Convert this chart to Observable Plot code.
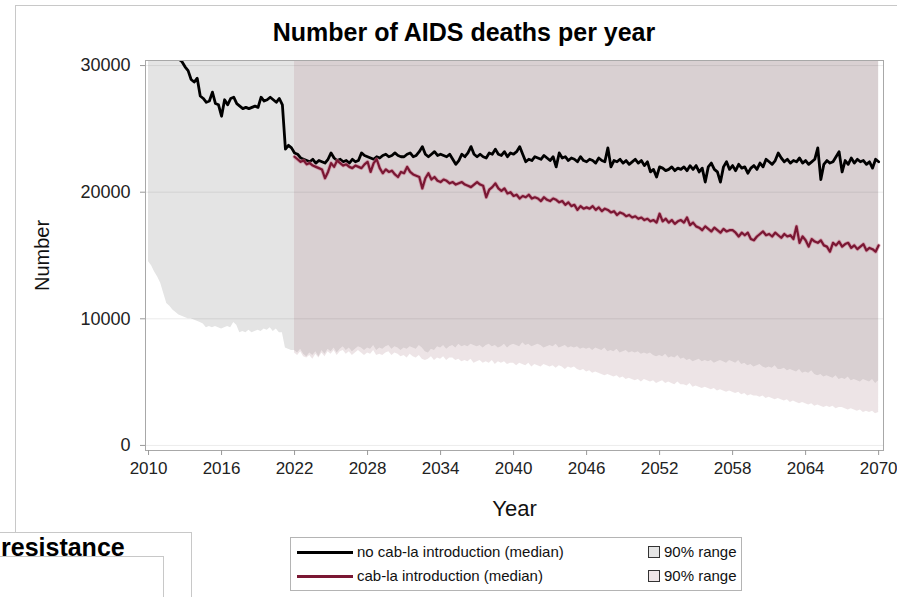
<!DOCTYPE html>
<html><head><meta charset="utf-8">
<script src="https://cdn.jsdelivr.net/npm/d3@7"></script>
<script src="https://cdn.jsdelivr.net/npm/@observablehq/plot@0.6"></script>
<style>
html,body{margin:0;padding:0;background:#fff;}
#page{position:relative;width:897px;height:597px;overflow:hidden;font-family:"Liberation Sans",Arial,sans-serif;color:#000;}
.abs{position:absolute;}
#title{left:464px;top:18px;transform:translateX(-50%);font-size:25px;font-weight:bold;white-space:nowrap;}
#chart{left:0;top:45px;}
#legend{left:290px;top:537px;width:452px;height:54px;border:1px solid #b4b4b4;box-sizing:border-box;background:#fff;}
.lrow{position:absolute;left:0;height:20px;width:100%;font-size:15px;white-space:nowrap;color:#111;}
.lline{position:absolute;left:6px;top:9px;width:56px;height:3px;}
.ltext{position:absolute;left:66px;top:1px;}
.lsw{position:absolute;left:357px;top:4px;width:10px;height:10px;border:1px solid #333;}
.lrng{position:absolute;left:373px;top:1px;}
</style></head>
<body><div id="page">
<div class="abs" style="left:15px;top:5px;width:882px;height:0;border-top:1px solid #c8c8c8"></div>
<div class="abs" style="left:15px;top:5px;width:0;height:527px;border-left:1px solid #c8c8c8"></div>
<div class="abs" id="title">Number of AIDS deaths per year</div>
<div class="abs" id="chart"></div>
<div class="abs" id="legend"></div>
<div class="abs" style="left:-1px;top:532px;width:191px;height:80px;border:1px solid #c8c8c8;background:#fff"></div>
<div class="abs" style="left:-1px;top:556px;width:163px;height:60px;border:1px solid #c8c8c8;background:#fff"></div>
<div class="abs" style="left:1px;top:533px;font-size:25px;font-weight:bold;white-space:nowrap">resistance</div>
</div>
<script>
// ---- data (quarterly, from startYear) ----
const startYear = 2010;
const cabStartYear = 2022;
const xTicks = [2010, 2016, 2022, 2028, 2034, 2040, 2046, 2052, 2058, 2064, 2070];
const yTicks = [0, 10000, 20000, 30000];
const seriesNames = ["no cab-la introduction (median)", "cab-la introduction (median)"];
const rangeName = "90% range";

// no cab-la introduction: median
const noCabMedian = [
34500,34000,33400,33000, 32600,32200,31900,31500, 31200,30900,30500,30300, 29900,29600,28900,28700,
29000,27600,27400,27100, 27200,27900,27000,26900, 26000,27300,26900,27400, 27500,27000,26800,26600,
26700,26600,26700,26800, 26700,27500,27200,27300, 27500,27300,27100,27400, 26900,23400,23700,23500,
23100,23000,22700,22600, 22500,22400,22600,22300, 22500,22400,22300,22600, 23100,22700,22500,22600,
22400,22500,22300,22600, 22400,22500,23100,22900, 22800,22700,22600,22800, 22700,22900,23000,22800,
22900,23100,22900,22800, 22800,23000,23100,22800, 22900,23200,23600,23000, 22800,23000,23200,22900,
23000,22900,22800,23000, 22600,22200,22500,23000, 22800,23100,23600,23000, 22800,23000,22800,22700,
23100,23000,23400,23000, 22900,23200,22800,23100, 23000,23200,23600,23000, 22400,22600,22500,22800,
22700,22600,22900,22700, 22500,22800,22000,23100, 22700,22800,22500,22700, 22600,22400,22800,22500,
22400,22600,22500,22300, 22700,22500,22400,23500, 22000,22500,22400,22600, 22300,22500,22200,22400,
22600,22300,22500,22100, 22400,21600,21800,21200, 22000,21900,21700,21800, 22000,21700,21900,21800,
22000,21700,22100,21800, 22100,21600,21900,20800, 22000,22300,21800,21600, 20800,22000,22400,21800,
22100,21700,22200,21900, 22000,21500,21900,22100, 21800,22300,22000,22600, 22400,22200,22500,23100,
22700,22400,22600,22300, 22500,22400,22700,22300, 22500,22200,22400,22600, 23500,21000,22200,22500,
22300,22400,22800,23200, 21600,22500,22200,22700, 22300,22600,22400,22500, 22200,22400,21900,22600,
22400
];
// no cab-la introduction: lower end of 90% range
const noCabLow = [
14500,14200,13700,13300, 12800,12000,11200,11000, 10700,10500,10300,10200, 10100,10000,10000,9900,
9800,9700,9600,9300, 9400,9300,9400,9300, 9200,9300,9400,9300, 9700,9500,8900,9000,
8900,9100,8900,9000, 9100,9000,9200,9100, 9300,9000,9200,8900, 8900,7700,7600,7500,
7500,7300,7600,7200, 7000,7300,7100,7400, 7000,7500,7200,7600, 7400,7700,7300,7600,
7800,7500,7700,7400, 7600,7800,7700,7500, 7700,7600,7900,7500, 7700,7600,7800,7900,
7600,7800,7700,7500, 7700,7600,7800,7700, 7600,7900,7700,7400, 7300,7600,7500,7800,
7700,7900,7600,7800, 7900,7700,8000,7800, 7900,7800,8000,7900, 7800,7900,7700,7900,
8000,7800,7900,7700, 7800,8000,7700,7900, 8000,7900,7800,8100, 7900,8000,7800,7900,
8000,7900,7700,7800, 7900,7800,8000,7700, 7800,7900,7700,7800, 7700,7800,7600,7700,
7600,7700,7500,7700, 7600,7500,7700,7400, 7500,7400,7600,7300, 7400,7500,7300,7400,
7300,7400,7200,7300, 7200,7300,7100,7000, 7100,7000,7200,6900, 7000,6900,7100,6800,
6900,6700,6800,6600, 6700,6800,6600,6700, 6600,6700,6500,6600, 6700,6600,6500,6700,
6600,6500,6700,6400, 6500,6300,6400,6200, 6300,6400,6200,6100, 6200,6100,6300,6000,
6000,6100,5900,6000, 5900,5800,6000,5700, 5800,5700,5900,5600, 5500,5600,5400,5500,
5400,5300,5500,5200, 5300,5200,5400,5100, 5200,5100,5000,5200, 5100,5000,5200,4900,
5100
];
// cab-la introduction: median (from 2022)
const cabMedian = [
22800,22600,22400,22500, 22200,22300,22100,22000, 21900,21800,21100,21600, 22300,22000,22500,22300,
22100,22200,22000,21900, 22100,22000,21900,22200, 22400,21600,22300,22600, 21900,21500,21800,21600,
21700,21400,21200,21600, 21500,22000,21600,21400, 21300,21200,20300,21100, 21500,21000,21200,20900,
20800,21000,20900,20700, 20800,20600,20700,20800, 20600,20500,20400,20600, 20800,20600,20500,19600,
20200,20400,20700,20300, 20100,20300,19900,20000, 19700,19800,19500,19700, 19600,19800,19500,19600,
19500,19300,19600,19400, 19300,19500,19400,19200, 19300,19000,19200,18900, 19000,18600,18900,18700,
18800,18700,18900,18600, 18800,18500,18700,18600, 18400,18500,18200,18400, 18300,18100,18200,18000,
18100,17900,18000,17800, 17900,17700,17800,17600, 18300,17700,17900,17600, 17800,17500,17700,17800,
17600,18000,17400,17600, 17300,17200,17000,17300, 17100,16900,17200,17000, 16800,17100,16900,17000,
17000,16800,16500,16800, 16600,16800,16300,16200, 16500,16700,16900,16600, 16700,16500,16800,16600,
16400,16700,16500,16600, 16300,17300,16000,16500, 16200,15700,16300,16100, 16000,16200,15800,15700,
15300,16000,15800,16100, 15700,15900,16000,15600, 15800,15500,15700,15900, 15400,15600,15500,15300,
15800
];
// cab-la introduction: lower end of 90% range (from 2022)
const cabLow = [
7300,7100,7400,7000, 6900,7100,6800,7200, 6900,7300,7000,7400, 7200,7500,7100,7400,
7500,7200,7400,7100, 7300,7500,7300,7100, 7300,7200,7500,7100, 7200,7100,7300,7400,
7100,7300,7200,7000, 7100,6900,7200,7000, 6900,7100,6800,6700, 6800,7000,6700,6900,
6800,7000,6700,6900, 6900,6700,6800,6600, 6700,6600,6800,6500, 6600,6700,6500,6600,
6500,6700,6400,6600, 6500,6600,6400,6500, 6500,6300,6500,6400, 6300,6500,6200,6400,
6300,6200,6400,6300, 6200,6300,6100,6300, 6200,6000,6200,6100, 6200,6000,5900,6000,
5800,5900,5700,5800, 5700,5600,5500,5600, 5500,5400,5500,5300, 5400,5200,5300,5200,
5100,5200,5000,5200, 5100,5000,5100,4900, 5000,5100,4900,5000, 4900,4800,5000,4800,
4800,4700,4900,4600, 4700,4600,4500,4600, 4500,4400,4500,4300, 4400,4300,4200,4300,
4200,4100,4200,4000, 4100,3900,4000,3900, 3900,3800,3900,3700, 3800,3700,3600,3700,
3600,3500,3600,3400, 3500,3400,3300,3400, 3300,3200,3300,3100, 3200,3100,3000,3100,
3000,3100,2900,3000, 3000,2900,2800,2900, 2800,2700,2800,2600, 2700,2600,2700,2500,
2600
];

// ---- styling ----
const yDomain = [-400, 30400];
const xDomain = [2009.75, 2070.4];
const greyBand = "#e4e4e4";
const pinkBand = "rgb(186,151,159)";
const pinkOpacity = 0.26;
const cabColor = "#7a1733";

const noCab = noCabMedian.map((v, i) => ({t: startYear + i / 4, median: v, low: noCabLow[i]}));
const cab = cabMedian.map((v, i) => ({t: cabStartYear + i / 4, median: v, low: cabLow[i]}));
const bandTop = yDomain[1];

const plot = Plot.plot({
  width: 897, height: 480,
  marginLeft: 145, marginRight: 14, marginTop: 15, marginBottom: 75,
  x: {domain: xDomain},
  y: {domain: yDomain},
  style: {fontFamily: "'Liberation Sans', Arial, sans-serif", fontSize: "16px", background: "transparent", overflow: "visible"},
  marks: [
    Plot.areaY(noCab, {x: "t", y1: "low", y2: bandTop, fill: greyBand}),
    Plot.areaY(cab, {x: "t", y1: "low", y2: bandTop, fill: pinkBand, fillOpacity: pinkOpacity}),
    Plot.ruleY(yTicks, {stroke: "#000", strokeOpacity: 0.08}),
    Plot.lineY(noCab, {x: "t", y: "median", stroke: "#000", strokeWidth: 2.8, clip: true}),
    Plot.lineY(cab, {x: "t", y: "median", stroke: "#c97089", strokeOpacity: 0.55, strokeWidth: 3.8, clip: true}),
    Plot.lineY(cab, {x: "t", y: "median", stroke: cabColor, strokeWidth: 2.2, clip: true}),
    Plot.frame({stroke: "#a8a8a8"}),
    Plot.axisX(xTicks, {tickSize: 5, tickPadding: 6, stroke: "#999", fill: "#222", fontSize: 17, tickFormat: d => String(d), label: null}),
    Plot.axisY(yTicks, {tickSize: 5, tickPadding: 10, stroke: "#999", fill: "#222", fontSize: 18, tickFormat: d => String(d), label: null}),
    Plot.text(["Year"], {frameAnchor: "bottom", dy: 58, lineAnchor: "middle", fontSize: 22, fill: "#111"}),
    Plot.text(["Number"], {frameAnchor: "left", dx: -103, rotate: -90, textAnchor: "middle", lineAnchor: "middle", fontSize: 20, fill: "#111"})
  ]
});
document.getElementById("chart").appendChild(plot);

// legend
const legend = document.getElementById("legend");
const legendRows = [
  {name: seriesNames[0], color: "#000", swatch: greyBand, top: 4},
  {name: seriesNames[1], color: cabColor, swatch: "#efe6e8", top: 28}
];
for (const r of legendRows) {
  const row = document.createElement("div");
  row.className = "lrow";
  row.style.top = r.top + "px";
  row.innerHTML = `<div class="lline" style="background:${r.color}"></div><div class="ltext">${r.name}</div>` +
    `<div class="lsw" style="background:${r.swatch}"></div><div class="lrng">${rangeName}</div>`;
  legend.appendChild(row);
}
</script>
</body></html>
